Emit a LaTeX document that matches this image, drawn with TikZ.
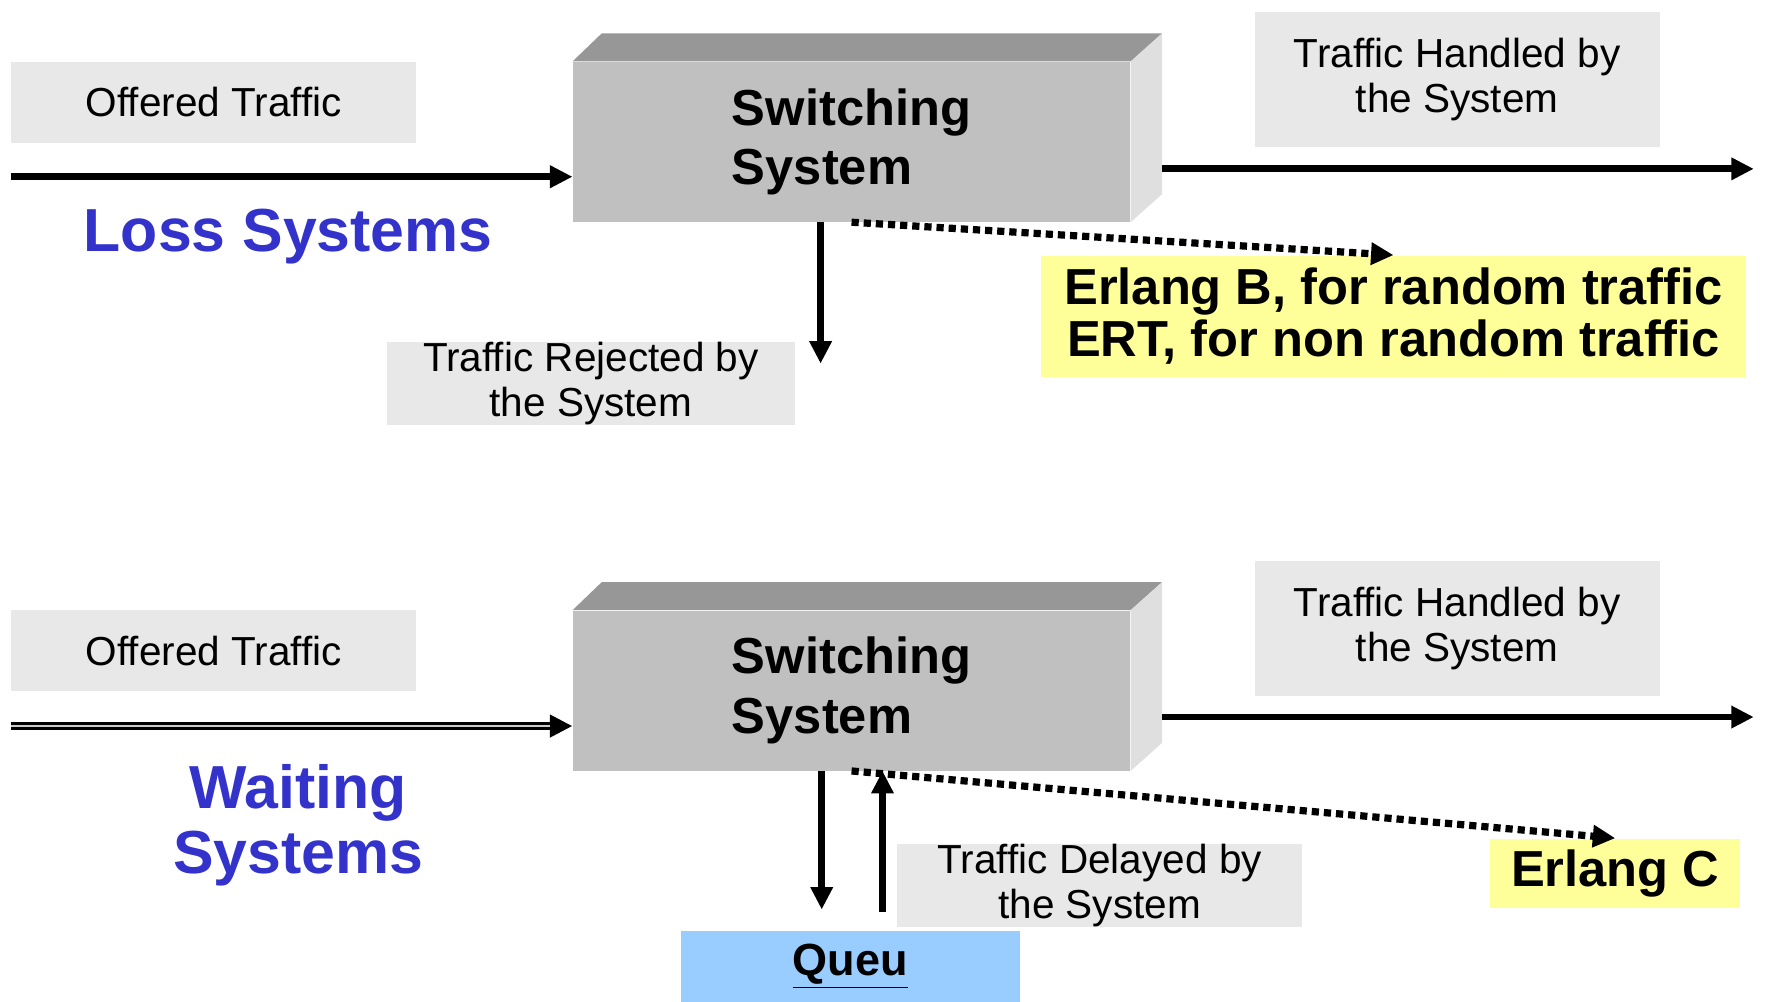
\documentclass[tikz,border=0pt]{standalone}
\usepackage{fontspec}
\setmainfont{Liberation Sans}
\usepackage{tikz}
\usetikzlibrary{arrows.meta}
\usetikzlibrary{calc}
\usetikzlibrary{positioning}

\definecolor{boxgray}{HTML}{E8E8E8}
\definecolor{frontgray}{HTML}{C0C0C0}
\definecolor{topgray}{HTML}{979797}
\definecolor{sidegray}{HTML}{DFDFDF}
\definecolor{titleblue}{HTML}{3333CC}
\definecolor{noteyellow}{HTML}{FFFF99}
\definecolor{queueblue}{HTML}{99CCFF}

\begin{document}
\begin{tikzpicture}[x=0.5pt,y=-0.5pt,
    tagbox/.style={fill=boxgray, inner sep=0pt, minimum width=180pt, minimum height=36pt,
      align=center, font=\fontsize{18}{20}\selectfont},
    switchbox/.style={fill=frontgray, inner sep=0pt, minimum width=247.5pt, minimum height=71pt,
      align=left, font=\fontsize{22.5}{26.5}\selectfont\bfseries},
    systitle/.style={text=titleblue, align=center, font=\fontsize{27}{29}\selectfont\bfseries},
    notebox/.style={fill=noteyellow, inner sep=0pt, align=center, font=\fontsize{22.5}{23}\selectfont\bfseries},
    flow/.style={line width=3pt, -{Triangle[length=10pt,width=9.5pt]}},
    stripe/.style={draw=gray!40, line width=0.7pt},
    dots/.style={line width=3.2pt, dash pattern=on 3.2pt off 2.2pt, -{Triangle[length=10pt,width=9.5pt]}}]
    \useasboundingbox (0,0) rectangle (1568,890);

    % loss system
    \node[tagbox] (off1) at (190,91) {Offered Traffic};
    \node[switchbox] (sw1) at (756.5,126) {Switching\\System};
    \fill[topgray] (sw1.north west) -- ++(13pt,12.5pt) -- ($(sw1.north east)+(14pt,12.5pt)$) -- (sw1.north east) -- cycle;
    \fill[sidegray] (sw1.north east) -- ++(14pt,12.5pt) -- ($(sw1.south east)+(14pt,12.5pt)$) -- (sw1.south east) -- cycle;
    \coordinate (sw1r) at ($(sw1.east)+(14pt,0)$);
    \node[tagbox, minimum height=60pt] (hand1) at (1294.5,70.5) {Traffic Handled by\\the System};
    \node[tagbox, minimum width=181pt] (rej) at (525,341) {Traffic Rejected by\\the System};
    \node[notebox, minimum width=313pt, minimum height=54pt] (erlB) at (1238,281)
      {Erlang B, for random traffic\\ERT, for non random traffic};
    \node[systitle] (loss) at (256,210) {Loss Systems};

    \coordinate (in1) at (10,157);
    \coordinate (out1) at (1558,150);
    \coordinate (rj) at (729,323);
    \path[flow] (in1) edge (in1 -| sw1.west);
    \path[flow] (sw1r |- out1) edge (out1);
    \path[flow] (rj |- sw1.south) edge (rj);
    \path[dots] (sw1.south) edge (erlB.north);

    % waiting system
    \node[tagbox] (off2) at (190,578) {Offered Traffic};
    \node[switchbox] (sw2) at (756.5,613.5) {Switching\\System};
    \fill[topgray] (sw2.north west) -- ++(13pt,12.5pt) -- ($(sw2.north east)+(14pt,12.5pt)$) -- (sw2.north east) -- cycle;
    \fill[sidegray] (sw2.north east) -- ++(14pt,12.5pt) -- ($(sw2.south east)+(14pt,12.5pt)$) -- (sw2.south east) -- cycle;
    \coordinate (sw2r) at ($(sw2.east)+(14pt,0)$);
    \node[tagbox, minimum height=60pt] (hand2) at (1294.5,558.5) {Traffic Handled by\\the System};
    \node[tagbox] (del) at (977,787) {Traffic Delayed by\\the System};
    \node[notebox, minimum width=111pt, minimum height=31pt] (erlC) at (1435,776) {Erlang C};
    \node[systitle] (wait) at (265,733) {Waiting\\Systems};
    \node[fill=queueblue, inner sep=0pt, minimum width=150.5pt, minimum height=31.5pt,
      font=\fontsize{20}{22}\selectfont\bfseries] (queue) at (755.5,858.5) {\underline{Queu}};

    \coordinate (in2) at (10,645);
    \coordinate (out2) at (1558,637);
    \coordinate (qd) at (730,808);
    \coordinate (qu) at (784,810);
    \path[flow, line width=3.4pt] (in2) edge (in2 -| sw2.west);
    \path[stripe] (in2) edge ($(in2 -| sw2.west)+(-10pt,0)$);
    \path[flow] (sw2r |- out2) edge (out2);
    \path[flow] (qd |- sw2.south) edge (qd);
    \path[flow] (qu) edge (qu |- sw2.south);
    \path[dots] (sw2.south) edge (erlC.north);
\end{tikzpicture}
\end{document}
